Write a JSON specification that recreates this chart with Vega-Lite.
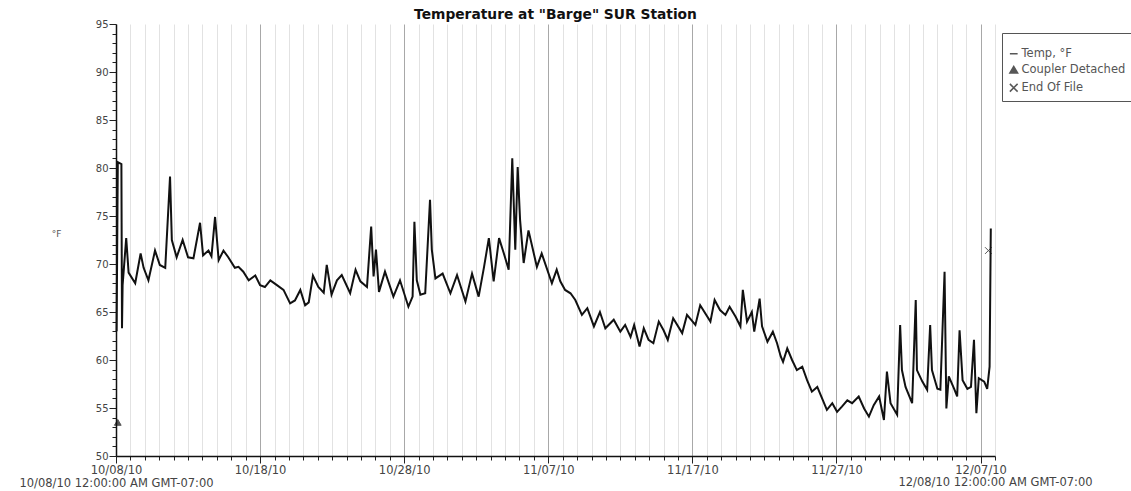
{
  "$schema": "https://vega.github.io/schema/vega-lite/v6.json",
  "autosize": "none",
  "padding": {"left": 116, "top": 24, "right": 136, "bottom": 35},
  "width": 879,
  "height": 432,
  "background": "white",
  "title": {"text": "Temperature at \"Barge\" SUR Station", "font": "DejaVu Sans", "fontSize": 13.8, "fontWeight": "bold", "color": "#111", "anchor": "middle", "offset": -3},
  "config": {"view": {"stroke": null}, "font": "DejaVu Sans"},
  "datasets": {
    "temp": [
      {"t": "2010-10-08T01:00", "v": 63.0},
      {"t": "2010-10-08T03:00", "v": 80.6},
      {"t": "2010-10-08T09:00", "v": 80.4},
      {"t": "2010-10-08T10:00", "v": 63.3},
      {"t": "2010-10-08T11:00", "v": 67.8},
      {"t": "2010-10-08T17:00", "v": 72.7},
      {"t": "2010-10-08T21:00", "v": 69.1},
      {"t": "2010-10-09T08:00", "v": 68.0},
      {"t": "2010-10-09T17:00", "v": 71.1},
      {"t": "2010-10-09T22:00", "v": 69.6},
      {"t": "2010-10-10T06:00", "v": 68.3},
      {"t": "2010-10-10T17:00", "v": 71.4},
      {"t": "2010-10-11T01:00", "v": 69.9},
      {"t": "2010-10-11T10:00", "v": 69.6},
      {"t": "2010-10-11T18:00", "v": 79.1},
      {"t": "2010-10-11T21:00", "v": 72.5},
      {"t": "2010-10-12T05:00", "v": 70.7},
      {"t": "2010-10-12T15:00", "v": 72.5},
      {"t": "2010-10-13T00:00", "v": 70.7},
      {"t": "2010-10-13T09:00", "v": 70.6},
      {"t": "2010-10-13T20:00", "v": 74.3},
      {"t": "2010-10-14T01:00", "v": 70.9},
      {"t": "2010-10-14T10:00", "v": 71.4},
      {"t": "2010-10-14T15:00", "v": 70.8},
      {"t": "2010-10-14T21:00", "v": 74.9},
      {"t": "2010-10-15T03:00", "v": 70.4},
      {"t": "2010-10-15T11:00", "v": 71.4},
      {"t": "2010-10-15T19:00", "v": 70.7},
      {"t": "2010-10-16T06:00", "v": 69.6},
      {"t": "2010-10-16T12:00", "v": 69.7},
      {"t": "2010-10-16T20:00", "v": 69.2},
      {"t": "2010-10-17T05:00", "v": 68.3},
      {"t": "2010-10-17T16:00", "v": 68.8},
      {"t": "2010-10-18T00:00", "v": 67.8},
      {"t": "2010-10-18T08:00", "v": 67.6},
      {"t": "2010-10-18T17:00", "v": 68.3},
      {"t": "2010-10-19T04:00", "v": 67.8},
      {"t": "2010-10-19T15:00", "v": 67.3},
      {"t": "2010-10-20T02:00", "v": 65.9},
      {"t": "2010-10-20T10:00", "v": 66.2},
      {"t": "2010-10-20T19:00", "v": 67.3},
      {"t": "2010-10-21T03:00", "v": 65.7},
      {"t": "2010-10-21T09:00", "v": 66.0},
      {"t": "2010-10-21T16:00", "v": 68.8},
      {"t": "2010-10-22T01:00", "v": 67.6},
      {"t": "2010-10-22T10:00", "v": 67.0},
      {"t": "2010-10-22T15:00", "v": 69.9},
      {"t": "2010-10-22T23:00", "v": 66.8},
      {"t": "2010-10-23T08:00", "v": 68.3},
      {"t": "2010-10-23T16:00", "v": 68.85},
      {"t": "2010-10-24T06:00", "v": 66.95},
      {"t": "2010-10-24T15:00", "v": 69.4},
      {"t": "2010-10-24T23:00", "v": 68.2},
      {"t": "2010-10-25T10:00", "v": 67.6},
      {"t": "2010-10-25T17:00", "v": 73.9},
      {"t": "2010-10-25T21:00", "v": 68.7},
      {"t": "2010-10-26T01:00", "v": 71.5},
      {"t": "2010-10-26T06:00", "v": 67.1},
      {"t": "2010-10-26T16:00", "v": 69.2},
      {"t": "2010-10-27T06:00", "v": 66.6},
      {"t": "2010-10-27T17:00", "v": 68.3},
      {"t": "2010-10-28T07:00", "v": 65.55},
      {"t": "2010-10-28T14:00", "v": 66.6},
      {"t": "2010-10-28T17:00", "v": 74.4},
      {"t": "2010-10-28T21:00", "v": 68.3},
      {"t": "2010-10-29T03:00", "v": 66.8},
      {"t": "2010-10-29T11:00", "v": 66.95},
      {"t": "2010-10-29T19:00", "v": 76.7},
      {"t": "2010-10-29T22:00", "v": 71.5},
      {"t": "2010-10-30T04:00", "v": 68.5},
      {"t": "2010-10-30T16:00", "v": 69.0},
      {"t": "2010-10-31T05:00", "v": 66.95},
      {"t": "2010-10-31T16:00", "v": 68.85},
      {"t": "2010-11-01T06:00", "v": 66.1},
      {"t": "2010-11-01T17:00", "v": 69.0},
      {"t": "2010-11-02T04:00", "v": 66.6},
      {"t": "2010-11-02T13:00", "v": 69.7},
      {"t": "2010-11-02T21:00", "v": 72.7},
      {"t": "2010-11-03T05:00", "v": 68.2},
      {"t": "2010-11-03T14:00", "v": 72.7},
      {"t": "2010-11-03T22:00", "v": 71.1},
      {"t": "2010-11-04T06:00", "v": 69.4},
      {"t": "2010-11-04T12:00", "v": 81.0},
      {"t": "2010-11-04T17:00", "v": 71.5},
      {"t": "2010-11-04T21:00", "v": 80.1},
      {"t": "2010-11-05T01:00", "v": 74.6},
      {"t": "2010-11-05T07:00", "v": 70.1},
      {"t": "2010-11-05T15:00", "v": 73.5},
      {"t": "2010-11-06T05:00", "v": 69.7},
      {"t": "2010-11-06T13:00", "v": 71.1},
      {"t": "2010-11-07T06:00", "v": 68.0},
      {"t": "2010-11-07T14:00", "v": 69.4},
      {"t": "2010-11-07T20:00", "v": 68.2},
      {"t": "2010-11-08T04:00", "v": 67.3},
      {"t": "2010-11-08T13:00", "v": 66.95},
      {"t": "2010-11-08T21:00", "v": 66.25},
      {"t": "2010-11-09T08:00", "v": 64.7},
      {"t": "2010-11-09T17:00", "v": 65.4},
      {"t": "2010-11-10T04:00", "v": 63.5},
      {"t": "2010-11-10T14:00", "v": 65.0},
      {"t": "2010-11-10T23:00", "v": 63.3},
      {"t": "2010-11-11T13:00", "v": 64.2},
      {"t": "2010-11-12T00:00", "v": 62.95},
      {"t": "2010-11-12T08:00", "v": 63.65},
      {"t": "2010-11-12T17:00", "v": 62.4},
      {"t": "2010-11-12T23:00", "v": 63.65},
      {"t": "2010-11-13T08:00", "v": 61.4},
      {"t": "2010-11-13T15:00", "v": 63.3},
      {"t": "2010-11-13T23:00", "v": 62.1},
      {"t": "2010-11-14T07:00", "v": 61.75},
      {"t": "2010-11-14T16:00", "v": 64.0},
      {"t": "2010-11-15T00:00", "v": 63.1},
      {"t": "2010-11-15T07:00", "v": 62.1},
      {"t": "2010-11-15T16:00", "v": 64.35},
      {"t": "2010-11-16T07:00", "v": 62.8},
      {"t": "2010-11-16T15:00", "v": 64.7},
      {"t": "2010-11-17T05:00", "v": 63.65},
      {"t": "2010-11-17T13:00", "v": 65.7},
      {"t": "2010-11-18T06:00", "v": 64.0},
      {"t": "2010-11-18T13:00", "v": 66.25},
      {"t": "2010-11-18T22:00", "v": 65.2},
      {"t": "2010-11-19T07:00", "v": 64.7},
      {"t": "2010-11-19T14:00", "v": 65.55},
      {"t": "2010-11-20T00:00", "v": 64.5},
      {"t": "2010-11-20T08:00", "v": 63.5},
      {"t": "2010-11-20T12:00", "v": 67.3},
      {"t": "2010-11-20T19:00", "v": 64.0},
      {"t": "2010-11-21T03:00", "v": 65.0},
      {"t": "2010-11-21T07:00", "v": 62.95},
      {"t": "2010-11-21T16:00", "v": 66.4},
      {"t": "2010-11-21T20:00", "v": 63.5},
      {"t": "2010-11-22T05:00", "v": 61.9},
      {"t": "2010-11-22T14:00", "v": 62.95},
      {"t": "2010-11-22T21:00", "v": 61.75},
      {"t": "2010-11-23T03:00", "v": 60.4},
      {"t": "2010-11-23T07:00", "v": 59.8},
      {"t": "2010-11-23T14:00", "v": 61.2},
      {"t": "2010-11-23T22:00", "v": 60.0},
      {"t": "2010-11-24T06:00", "v": 58.95},
      {"t": "2010-11-24T15:00", "v": 59.3},
      {"t": "2010-11-24T23:00", "v": 57.9},
      {"t": "2010-11-25T07:00", "v": 56.7},
      {"t": "2010-11-25T16:00", "v": 57.2},
      {"t": "2010-11-26T00:00", "v": 56.0},
      {"t": "2010-11-26T08:00", "v": 54.8},
      {"t": "2010-11-26T17:00", "v": 55.5},
      {"t": "2010-11-27T01:00", "v": 54.6},
      {"t": "2010-11-27T09:00", "v": 55.15},
      {"t": "2010-11-27T18:00", "v": 55.8},
      {"t": "2010-11-28T02:00", "v": 55.5},
      {"t": "2010-11-28T13:00", "v": 56.2},
      {"t": "2010-11-28T22:00", "v": 54.95},
      {"t": "2010-11-29T06:00", "v": 54.1},
      {"t": "2010-11-29T14:00", "v": 55.3},
      {"t": "2010-11-29T23:00", "v": 56.2},
      {"t": "2010-11-30T07:00", "v": 53.75},
      {"t": "2010-11-30T12:00", "v": 58.8},
      {"t": "2010-11-30T18:00", "v": 55.5},
      {"t": "2010-12-01T05:00", "v": 54.3},
      {"t": "2010-12-01T10:00", "v": 63.65},
      {"t": "2010-12-01T13:00", "v": 58.95},
      {"t": "2010-12-01T19:00", "v": 57.2},
      {"t": "2010-12-02T06:00", "v": 55.5},
      {"t": "2010-12-02T12:00", "v": 66.25},
      {"t": "2010-12-02T14:00", "v": 58.95},
      {"t": "2010-12-02T23:00", "v": 57.75},
      {"t": "2010-12-03T07:00", "v": 56.9},
      {"t": "2010-12-03T12:00", "v": 63.65},
      {"t": "2010-12-03T15:00", "v": 58.95},
      {"t": "2010-12-04T00:00", "v": 57.0},
      {"t": "2010-12-04T05:00", "v": 56.9},
      {"t": "2010-12-04T12:00", "v": 69.2},
      {"t": "2010-12-04T15:00", "v": 54.95},
      {"t": "2010-12-04T19:00", "v": 58.3},
      {"t": "2010-12-05T04:00", "v": 57.0},
      {"t": "2010-12-05T09:00", "v": 56.2},
      {"t": "2010-12-05T13:00", "v": 63.1},
      {"t": "2010-12-05T18:00", "v": 57.9},
      {"t": "2010-12-06T02:00", "v": 57.0},
      {"t": "2010-12-06T08:00", "v": 57.2},
      {"t": "2010-12-06T13:00", "v": 62.1},
      {"t": "2010-12-06T17:00", "v": 54.45},
      {"t": "2010-12-06T21:00", "v": 58.1},
      {"t": "2010-12-07T06:00", "v": 57.75},
      {"t": "2010-12-07T11:00", "v": 57.0},
      {"t": "2010-12-07T15:00", "v": 59.3},
      {"t": "2010-12-07T17:00", "v": 73.7}
    ],
    "events": [
      {"t": "2010-10-08T03:00", "v": 53.5, "kind": "Coupler Detached"},
      {"t": "2010-12-07T13:00", "v": 71.4, "kind": "End Of File"}
    ]
  },
  "encoding": {
    "x": {
      "field": "t", "type": "temporal", "title": null,
      "scale": {"domain": [{"year": 2010, "month": 10, "date": 8}, {"year": 2010, "month": 12, "date": 8}], "nice": false},
      "axis": {
        "tickCount": {"interval": "day", "step": 1},
        "grid": true,
        "gridColor": {"condition": {"test": "indexof(['10/08/10','10/18/10','10/28/10','11/07/10','11/17/10','11/27/10','12/07/10'], timeFormat(datum.value,'%m/%d/%y')) >= 0", "value": "#a8a8a8"}, "value": "#e2e2e2"},
        "gridWidth": 1,
        "tickSize": {"condition": {"test": "indexof(['10/08/10','10/18/10','10/28/10','11/07/10','11/17/10','11/27/10','12/07/10'], timeFormat(datum.value,'%m/%d/%y')) >= 0", "value": 7}, "value": 4},
        "tickColor": "#222",
        "domainColor": "#111",
        "domainWidth": 1.5,
        "labelExpr": "timeFormat(datum.value,'%m/%d/%y') == '10/08/10' ? ['10/08/10', '10/08/10 12:00:00 AM GMT-07:00'] : (timeFormat(datum.value,'%m/%d/%y') == '12/08/10' ? '12/08/10 12:00:00 AM GMT-07:00' : (indexof(['10/18/10','10/28/10','11/07/10','11/17/10','11/27/10','12/07/10'], timeFormat(datum.value,'%m/%d/%y')) >= 0 ? timeFormat(datum.value,'%m/%d/%y') : ''))",
        "labelOverlap": false,
        "labelBound": false,
        "labelFlush": false,
        "labelLimit": 400,
        "labelFont": "DejaVu Sans",
        "labelFontSize": 11.5,
        "labelLineHeight": 13,
        "labelColor": "#444",
        "labelPadding": {"condition": {"test": "timeFormat(datum.value,'%m/%d/%y') == '12/08/10'", "value": 16}, "value": 1}
      }
    },
    "y": {
      "field": "v", "type": "quantitative",
      "scale": {"domain": [50, 95], "nice": false, "zero": false},
      "axis": {
        "title": "°F",
        "titleAngle": 0,
        "titleX": -60,
        "titleY": 214,
        "titleFontSize": 9,
        "titleFontWeight": "normal",
        "titleColor": "#555",
        "values": [50,51,52,53,54,55,56,57,58,59,60,61,62,63,64,65,66,67,68,69,70,71,72,73,74,75,76,77,78,79,80,81,82,83,84,85,86,87,88,89,90,91,92,93,94,95],
        "grid": false,
        "tickSize": {"condition": {"test": "datum.value % 5 === 0", "value": 7}, "value": 4},
        "tickColor": "#222",
        "domainColor": "#111",
        "domainWidth": 1.5,
        "labelExpr": "datum.value % 5 === 0 ? datum.label : ''",
        "labelOverlap": false,
        "labelBound": false,
        "labelFlush": false,
        "labelFont": "DejaVu Sans",
        "labelFontSize": 10,
        "labelColor": "#444",
        "labelPadding": 1
      }
    }
  },
  "layer": [
    {
      "data": {"name": "temp"},
      "mark": {"type": "line", "color": "#111", "strokeWidth": 2, "strokeJoin": "miter"}
    },
    {
      "data": {"name": "events"},
      "mark": {"type": "point", "filled": true, "color": "#111", "stroke": "#111", "strokeWidth": 1, "size": 45},
      "encoding": {
        "shape": {
          "field": "kind", "type": "nominal",
          "scale": {"domain": ["Temp, °F", "Coupler Detached", "End Of File"], "range": ["stroke", "triangle-up", "M-1,-1L1,1M-1,1L1,-1"]},
          "legend": {
            "title": " ",
            "titleFontSize": 6,
            "titlePadding": 3,
            "orient": "none",
            "legendX": 886,
            "legendY": 9,
            "padding": 6,
            "strokeColor": "#555",
            "fillColor": "white",
            "symbolSize": 60,
            "labelFont": "DejaVu Sans",
            "labelFontSize": 11.5,
            "labelColor": "#555",
            "labelLimit": 250,
            "rowPadding": 3,
            "labelOffset": 2,
            "encode": {
              "symbols": {"update": {"fill": {"value": "#111"}, "stroke": {"value": "#111"}, "strokeWidth": {"value": 1.5}, "opacity": {"value": 1}}}
            }
          }
        }
      }
    }
  ]
}
